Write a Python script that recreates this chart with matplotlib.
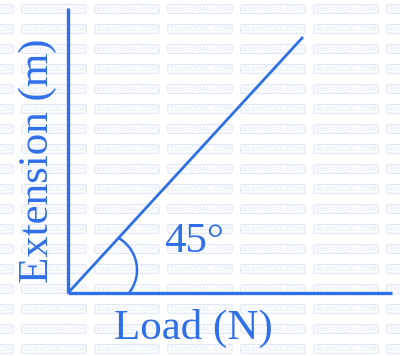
import numpy as np
import matplotlib
matplotlib.use("Agg")
import matplotlib.pyplot as plt
from matplotlib.patches import Arc

# diagram data (pixel-like units, origin at the corner of the axes)
load_axis = [0, 324]
ext_axis = [0, 285]
line_load = [0, 235]
line_ext = [0, 256]
angle_label = "45°"
x_label = "Load (N)"
y_label = "Extension (m)"

blue = "#2f6fe8"
mark = "#e1e8f8"

fig = plt.figure(figsize=(4.0, 3.56), dpi=100)
ax = fig.add_axes([0, 0, 1, 1])
ax.set_xlim(-68, 332)
ax.set_ylim(-63, 293)
ax.axis("off")

# watermark grid
for col in range(-1, 6):
    for row in range(18):
        x = 22 + col * 73 + 32
        y = 293 - (3 + row * 20 + 6)
        ax.text(x - 68, y, "ExamGOAL.COM", fontsize=5.4, family="DejaVu Sans",
                color=mark, ha="center", va="center", zorder=0,
                bbox=dict(boxstyle="round,pad=0.18,rounding_size=0.2", fc="none",
                          ec=mark, lw=0.9))

# axes
ax.plot([0, 0], ext_axis, color=blue, lw=2.4, solid_capstyle="butt", zorder=3)
ax.plot(load_axis, [0, 0], color=blue, lw=2.4, solid_capstyle="butt", zorder=3)

# the straight line
ax.plot(line_load, line_ext, color=blue, lw=2.0, solid_capstyle="butt", zorder=3)

# angle arc
ax.add_patch(Arc((32, 23), 74, 74, theta1=-38, theta2=61, color=blue, lw=1.8, zorder=3))
ax.text(126, 51, angle_label, fontsize=31, family="Liberation Serif", color=blue,
        ha="center", va="center")

ax.text(125, -46, x_label, fontsize=31, family="Liberation Serif", color=blue,
        ha="center", va="baseline")
ax.text(-20, 132, y_label, fontsize=31, family="Liberation Serif", color=blue,
        ha="center", va="baseline", rotation=90, rotation_mode="anchor")

fig.savefig("out.png", dpi=100)
